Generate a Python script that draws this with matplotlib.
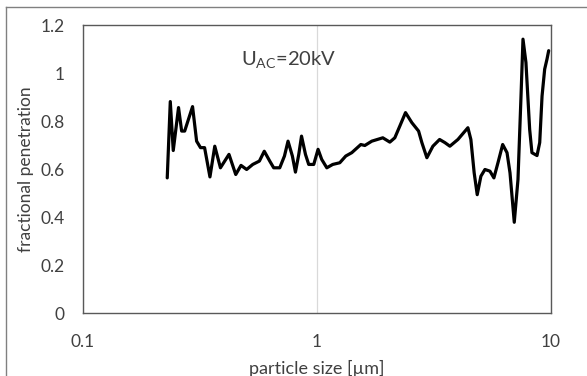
import matplotlib
matplotlib.use("Agg")
import matplotlib.pyplot as plt
from matplotlib.lines import Line2D
from matplotlib.ticker import FixedLocator, FixedFormatter, NullLocator

plt.rcParams['font.family'] = ['Lato', 'DejaVu Sans']
plt.rcParams['mathtext.fontset'] = 'custom'
plt.rcParams['mathtext.rm'] = 'Lato'

# particle size [um]
size = [0.230, 0.237, 0.244, 0.257, 0.265, 0.273, 0.295, 0.307, 0.319, 0.332,
        0.350, 0.367, 0.388, 0.422, 0.451, 0.475, 0.502, 0.533, 0.569, 0.597,
        0.630, 0.655, 0.695, 0.728, 0.754, 0.787, 0.811, 0.838, 0.861, 0.895,
        0.924, 0.971, 1.013, 1.050, 1.104, 1.170, 1.254, 1.330, 1.411, 1.542,
        1.604, 1.718, 1.914, 2.051, 2.154, 2.263, 2.393, 2.547, 2.721, 2.810,
        2.952, 3.132, 3.345, 3.523, 3.701, 4.005, 4.418, 4.549, 4.699, 4.842,
        5.020, 5.224, 5.487, 5.705, 5.937, 6.219, 6.490, 6.683, 6.969, 7.228,
        7.447, 7.593, 7.816, 8.108, 8.291, 8.715, 8.950, 9.158, 9.397, 9.615,
        9.775]
# fractional penetration
penetration = [0.563, 0.881, 0.677, 0.856, 0.758, 0.758, 0.860, 0.716, 0.689, 0.689,
               0.567, 0.695, 0.605, 0.661, 0.577, 0.615, 0.598, 0.619, 0.633, 0.674,
               0.633, 0.605, 0.605, 0.654, 0.716, 0.654, 0.587, 0.661, 0.737, 0.661,
               0.619, 0.619, 0.682, 0.640, 0.605, 0.619, 0.626, 0.654, 0.668, 0.702,
               0.698, 0.716, 0.730, 0.712, 0.730, 0.779, 0.835, 0.793, 0.758, 0.710,
               0.647, 0.695, 0.723, 0.710, 0.695, 0.723, 0.772, 0.723, 0.584, 0.493,
               0.570, 0.598, 0.591, 0.563, 0.626, 0.702, 0.668, 0.584, 0.378, 0.556,
               0.904, 1.141, 1.044, 0.765, 0.668, 0.656, 0.710, 0.904, 1.016, 1.058,
               1.093]

x_ticks = [0.1, 1, 10]
x_tick_labels = ["0.1", "1", "10"]
y_ticks = [0, 0.2, 0.4, 0.6, 0.8, 1.0, 1.2]
y_tick_labels = ["0", "0.2", "0.4", "0.6", "0.8", "1", "1.2"]

W, H = 587, 376
fig = plt.figure(figsize=(W / 100, H / 100), dpi=100)
ax = fig.add_axes([82.5 / W, (H - 313) / H, (551 - 82.5) / W, (313 - 25) / H])

ax.plot(size, penetration, color='black', lw=2.3, solid_joinstyle='round',
        solid_capstyle='round', zorder=3)

ax.set_xscale('log')
ax.set_xlim(0.1, 10)
ax.set_ylim(0, 1.2)
ax.xaxis.set_major_locator(FixedLocator(x_ticks))
ax.xaxis.set_major_formatter(FixedFormatter(x_tick_labels))
ax.xaxis.set_minor_locator(NullLocator())
ax.yaxis.set_major_locator(FixedLocator(y_ticks))
ax.yaxis.set_major_formatter(FixedFormatter(y_tick_labels))

ax.grid(axis='x', which='major', color='#d9d9d9', lw=0.9, zorder=0)
ax.tick_params(axis='both', length=0, labelsize=12.5, labelcolor='#404040')
ax.tick_params(axis='x', pad=15)
ax.tick_params(axis='y', pad=13)
for s in ax.spines.values():
    s.set_color('#595959')
    s.set_linewidth(1.0)

ax.set_xlabel('particle size [µm]', fontsize=13, color='#404040')
ax.set_ylabel('fractional penetration', fontsize=12.5, color='#404040')
ax.xaxis.set_label_coords(0.5, -0.163)
ax.yaxis.set_label_coords(-0.104, 0.5)

ax.text(0.339, 0.878, r'U$_{\mathrm{AC}}$=20kV', transform=ax.transAxes,
        fontsize=14.5, color='#404040', ha='left', va='center')

# outer chart-area border
fig.add_artist(Line2D([6 / W, 1.0], [1 - 7 / H, 1 - 7 / H], color='#808080', lw=1.0,
                      transform=fig.transFigure))
fig.add_artist(Line2D([6 / W, 6 / W], [0.0, 1 - 7 / H], color='#808080', lw=1.0,
                      transform=fig.transFigure))

fig.savefig('out.png', dpi=100)
